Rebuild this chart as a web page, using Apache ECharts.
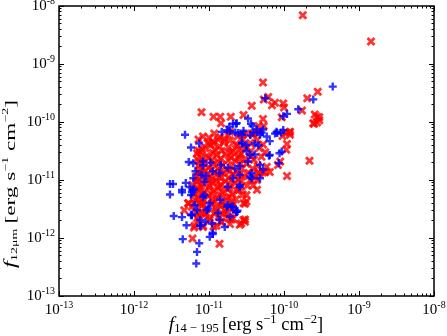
<!DOCTYPE html>
<html lang="en">
<head>
    <meta charset="UTF-8">
    <title>f14-195 vs f12um</title>
    <script src="https://cdn.jsdelivr.net/npm/echarts@6/dist/echarts.min.js"></script>
    <style>
        html, body {margin: 0; padding: 0; background: #fff;}
    </style>
</head>
<body>
    <div id="chart" style="width: 447px; height: 336px"></div>
    <script type="text/javascript">
        // values, in log10 units (erg s^-1 cm^-2)
        let blueLogX = [-9.35, -9.61, -9.81, -9.96, -10.01, -10.25, -10.48, -10.64, -10.68, -10.44,
            -10.42, -10.54, -10.36, -10.30, -10.41, -10.10, -10.01, -10.23, -10.65, -10.04,
            -10.12, -11.32, -11.24, -11.13, -10.83, -10.76, -11.52, -11.48, -11.52, -11.31,
            -11.36, -11.36, -11.23, -11.20, -11.24, -11.47, -11.36, -11.16, -11.23, -11.06,
            -11.08, -11.21, -11.04, -11.08, -10.99, -11.03, -10.85, -10.88, -10.76, -11.35,
            -11.13, -11.16, -11.17, -10.99, -10.95, -11.11, -10.96, -11.05, -10.19, -10.03,
            -10.19, -10.07, -10.59, -10.43, -10.59, -10.63, -10.68, -10.34, -10.39, -10.50,
            -10.56, -10.45, -10.65, -11.08, -11.18, -11.10, -11.21, -10.98, -10.95, -10.72,
            -10.61, -10.56, -10.56, -10.45, -10.32, -10.28, -10.50, -10.39, -10.48, -10.32,
            -10.28, -10.43, -10.59, -10.75, -10.84, -10.86, -10.45, -10.32, -10.68, -11.26,
            -11.21, -11.24, -11.12, -10.95, -10.75, -10.70, -10.64, -10.59, -10.75, -11.06,
            -11.01, -11.19, -10.86, -10.79, -11.30, -11.23, -11.12, -10.72, -10.62, -10.73,
            -10.63, -11.27, -10.06, -10.20, -10.09];
        let blueLogY = [-9.39, -9.61, -9.78, -9.86, -9.90, -9.59, -9.94, -10.03, -10.03, -10.03,
            -10.07, -10.15, -10.13, -10.18, -10.18, -10.17, -10.14, -10.25, -10.18, -10.18,
            -10.20, -10.22, -10.44, -10.37, -10.17, -10.14, -11.07, -11.07, -11.25, -11.05,
            -11.17, -11.21, -11.21, -11.16, -11.26, -11.62, -11.64, -11.52, -11.60, -11.03,
            -10.75, -10.71, -10.93, -11.29, -11.40, -11.52, -11.34, -11.57, -11.46, -12.02,
            -12.09, -12.24, -12.44, -11.98, -11.93, -11.79, -11.75, -11.72, -10.33, -10.51,
            -10.57, -10.71, -10.91, -10.97, -11.12, -11.55, -11.46, -10.40, -10.37, -10.40,
            -10.37, -10.57, -10.80, -10.68, -10.85, -10.91, -10.97, -10.70, -10.85, -10.16,
            -10.19, -10.22, -10.36, -10.23, -10.22, -10.13, -10.50, -10.56, -10.68, -10.74,
            -10.82, -10.88, -10.76, -10.79, -10.74, -10.88, -10.94, -10.97, -10.97, -11.12,
            -11.17, -11.60, -11.79, -11.91, -11.43, -11.46, -11.55, -11.09, -11.12, -11.26,
            -11.49, -11.43, -11.69, -11.81, -11.78, -11.61, -11.69, -11.63, -11.53, -10.08,
            -10.02, -10.69, -10.54, -10.58, -10.19];

        let redLogX = [-9.75, -8.84, -10.28, -9.55, -9.69, -10.21, -10.27, -10.12, -10.16, -10.01,
            -10.00, -10.03, -9.76, -9.56, -9.61, -9.53, -9.59, -9.60, -9.56, -9.53,
            -10.43, -10.54, -10.71, -10.28, -10.34, -10.27, -10.41, -10.55, -10.72, -9.97,
            -9.93, -10.02, -9.92, -9.92, -11.10, -10.94, -10.85, -10.84, -11.14, -10.79,
            -11.16, -10.94, -11.14, -11.16, -11.14, -11.28, -11.33, -11.12, -11.22, -10.86,
            -11.19, -11.08, -10.90, -10.83, -9.66, -9.96, -10.36, -9.96, -9.97, -10.08,
            -10.05, -10.19, -10.28, -10.34, -10.54, -10.50, -10.52, -10.68, -10.52, -10.57,
            -10.68, -10.84, -10.99, -11.16, -11.08, -11.10, -11.20, -10.59, -11.14, -11.16,
            -11.12, -11.17, -11.21, -11.19, -11.27, -11.23, -11.14, -11.14, -10.94, -10.72,
            -10.70, -10.54, -10.52, -10.50, -10.41, -10.36, -10.33, -10.25, -10.23, -10.44,
            -10.50, -10.45, -10.36, -10.28, -10.41, -10.32, -10.50,
            -11.12, -11.05, -10.98, -10.92, -10.86, -10.80, -10.74, -10.68, -10.62, -10.57,
            -11.10, -11.03, -10.96, -10.90, -10.84, -10.78, -10.71, -10.65, -10.58, -10.52,
            -11.14, -11.07, -11.00, -10.94, -10.88, -10.82, -10.76, -10.70, -10.63, -10.56,
            -11.12, -11.05, -10.99, -10.93, -10.87, -10.81, -10.74, -10.68, -10.61, -10.54,
            -11.16, -11.09, -11.02, -10.96, -10.90, -10.84, -10.78, -10.72, -10.65, -10.58,
            -11.13, -11.06, -11.00, -10.94, -10.88, -10.82, -10.75, -10.69, -10.62, -10.55,
            -11.15, -11.08, -11.01, -10.95, -10.89, -10.83, -10.77, -10.70, -10.64,
            -11.10, -11.03, -10.97, -10.91, -10.85, -10.79, -10.72, -10.66,
            -11.06, -10.99, -10.93, -10.87, -10.81, -10.74,
            -11.18, -11.20, -11.19, -11.22,
            -10.50, -10.47, -10.45, -10.49, -10.60, -10.64, -10.72, -10.88, -10.95, -11.02,
            -10.40, -10.42, -10.38, -10.35, -10.30, -10.25, -10.33, -10.44, -10.52, -10.55,
            -10.62, -10.75, -10.85, -10.93, -11.00, -11.08,
            -11.09, -10.95, -10.83, -10.71, -10.60, -11.13, -11.00, -10.87, -10.74, -10.61,
            -11.09, -10.97, -10.85, -10.72, -10.59, -11.08, -10.96, -10.84, -10.70, -10.57,
            -11.11, -10.99, -10.86, -10.73, -10.60, -11.10, -10.97, -10.85, -10.73,
            -11.08, -10.94, -10.81, -10.68, -11.04, -10.90, -10.77];
        let redLogY = [-8.16, -8.61, -9.32, -9.48, -9.59, -9.57, -9.61, -9.67, -9.71, -9.68,
            -9.75, -9.92, -9.80, -9.91, -10.02, -9.97, -9.87, -10.03, -10.01, -9.92,
            -9.72, -9.88, -9.91, -9.95, -10.07, -10.07, -10.21, -10.22, -10.17, -10.18,
            -10.18, -10.24, -10.22, -10.17, -9.83, -9.91, -9.91, -10.02, -10.30, -10.30,
            -10.54, -10.37, -10.87, -11.03, -11.17, -11.40, -11.52, -11.40, -12.01, -12.10,
            -11.79, -11.79, -11.79, -11.73, -10.67, -10.93, -11.17, -10.38, -10.48, -10.74,
            -10.68, -10.86, -10.87, -10.86, -11.40, -11.37, -11.68, -11.49, -11.72, -11.75,
            -11.66, -11.72, -11.69, -11.66, -11.81, -11.57, -11.82, -11.77, -10.49, -10.64,
            -10.83, -10.94, -11.23, -11.33, -11.40, -11.46, -11.57, -11.70, -11.80, -11.76,
            -11.68, -11.69, -11.41, -11.26, -11.09, -11.00, -10.89, -10.86, -10.77, -10.60,
            -10.45, -10.36, -10.31, -10.39, -10.20, -10.17, -10.20,
            -10.52, -10.45, -10.40, -10.48, -10.42, -10.35, -10.44, -10.50, -10.41, -10.55,
            -10.62, -10.58, -10.66, -10.57, -10.63, -10.55, -10.61, -10.67, -10.72, -10.64,
            -10.75, -10.70, -10.78, -10.72, -10.80, -10.74, -10.82, -10.77, -10.85, -10.80,
            -10.90, -10.84, -10.93, -10.87, -10.95, -10.88, -10.96, -10.90, -10.99, -10.93,
            -11.02, -11.06, -10.99, -11.04, -11.01, -11.08, -11.02, -11.09, -11.05, -11.12,
            -11.15, -11.20, -11.13, -11.18, -11.14, -11.21, -11.16, -11.24, -11.19, -11.25,
            -11.30, -11.35, -11.28, -11.33, -11.29, -11.37, -11.31, -11.38, -11.33,
            -11.45, -11.50, -11.42, -11.48, -11.44, -11.52, -11.47, -11.55,
            -11.60, -11.65, -11.58, -11.63, -11.59, -11.66,
            -11.55, -11.40, -11.20, -11.08,
            -10.72, -10.88, -11.00, -11.10, -10.58, -10.38, -10.32, -10.30, -10.33, -10.36,
            -10.65, -10.80, -10.95, -10.76, -10.60, -10.52, -10.45, -10.50, -10.43, -10.30,
            -10.25, -10.22, -10.26, -10.20, -10.27, -10.25,
            -10.47, -10.53, -10.50, -10.53, -10.47, -10.68, -10.62, -10.69, -10.66, -10.62,
            -10.81, -10.83, -10.86, -10.84, -10.90, -10.97, -10.98, -10.97, -11.00, -11.03,
            -11.10, -11.09, -11.11, -11.14, -11.17, -11.26, -11.24, -11.26, -11.29,
            -11.41, -11.39, -11.42, -11.43, -11.56, -11.54, -11.57];

        let decades = [1e-13, 1e-12, 1e-11, 1e-10, 1e-9, 1e-8];

        let minorTicks = [];
        decades.slice(0, -1).forEach(d => {
            for (let k = 2; k <= 9; k++) minorTicks.push(k * d);
        });

        let xTitle = '{i|f}{sub|14 − 195} {n|[erg s}{sup|−1}{n| cm}{sup|−2}{n|]}';
        let yTitle = '{i|f}{sub|12μm} {n|[erg s}{sup|−1}{n| cm}{sup|−2}{n|]}';

        function toPoints(xs, ys) {
            return xs.map((v, i) => [Math.pow(10, v), Math.pow(10, ys[i])]);
        }

        let serif = 'Liberation Serif';
        let tickRich = {
            b: {fontFamily: serif, fontSize: 15, color: '#000'},
            s: {fontFamily: serif, fontSize: 10, color: '#000', padding: [0, 0, 10, 0]}
        };
        function powLabel(v) {
            let e = Math.round(Math.log10(v));
            return '{b|10}{s|' + e + '}';
        }
        function titleRich(big) {
            return {
                i: {fontFamily: serif, fontSize: big + 1, fontStyle: 'italic', fill: '#000'},
                sub: {fontFamily: serif, fontSize: big - 6, fill: '#000', padding: [8, 0, 0, 0]},
                n: {fontFamily: serif, fontSize: big, fill: '#000'},
                sup: {fontFamily: serif, fontSize: big - 6, fill: '#000', padding: [0, 0, 10, 0]}
            };
        }

        function makeAxis(pos, major, show) {
            return {
                type: 'log',
                min: 1e-13,
                max: 1e-8,
                position: pos,
                axisLine: {show: false},
                splitLine: {show: false},
                axisTick: {
                    show: true,
                    inside: true,
                    length: major ? 5 : 2.5,
                    customValues: major ? decades : minorTicks,
                    lineStyle: {color: '#000', width: 1}
                },
                minorTick: {show: false},
                axisLabel: show ? {
                    customValues: decades,
                    formatter: powLabel,
                    rich: tickRich,
                    margin: 4
                } : {show: false}
            };
        }

        let plusPath = 'path://M2.8,0H5.2V2.8H8V5.2H5.2V8H2.8V5.2H0V2.8H2.8Z';
        let crossPath = 'path://M0,2L2,0L4.5,2.5L7,0L9,2L6.5,4.5L9,7L7,9L4.5,6.5L2,9L0,7L2.5,4.5Z';

        let myChart = echarts.init(document.getElementById('chart'));
        let option = {
            animation: false,
            backgroundColor: '#fff',
            grid: {
                left: 59, right: 13, top: 6, bottom: 40,
                containLabel: false,
                outerBoundsMode: 'none',
                show: true,
                borderColor: '#000',
                borderWidth: 1.5,
                backgroundColor: 'transparent'
            },
            graphic: [
                {
                    type: 'text',
                    x: 246,
                    y: 325,
                    style: {
                        text: xTitle,
                        rich: titleRich(18.5),
                        textAlign: 'center',
                        textVerticalAlign: 'middle'
                    }
                },
                {
                    type: 'text',
                    x: 11,
                    y: 184,
                    rotation: Math.PI / 2,
                    scaleX: 1.55,
                    style: {
                        text: yTitle,
                        rich: titleRich(15),
                        textAlign: 'center',
                        textVerticalAlign: 'middle'
                    }
                }
            ],
            xAxis: [
                makeAxis('bottom', true, true),
                makeAxis('bottom', false, false),
                makeAxis('top', true, false),
                makeAxis('top', false, false)
            ],
            yAxis: [
                makeAxis('left', true, true),
                makeAxis('left', false, false),
                makeAxis('right', true, false),
                makeAxis('right', false, false)
            ],
            series: [
                {
                    name: 'red',
                    type: 'scatter',
                    symbol: crossPath,
                    symbolSize: 9,
                    itemStyle: {color: '#ff0000'},
                    data: toPoints(redLogX, redLogY)
                },
                {
                    name: 'blue',
                    type: 'scatter',
                    symbol: plusPath,
                    symbolSize: 8,
                    itemStyle: {color: '#0000ff'},
                    data: toPoints(blueLogX, blueLogY)
                }
            ]
        };
        myChart.setOption(option);
    </script>
</body>
</html>
